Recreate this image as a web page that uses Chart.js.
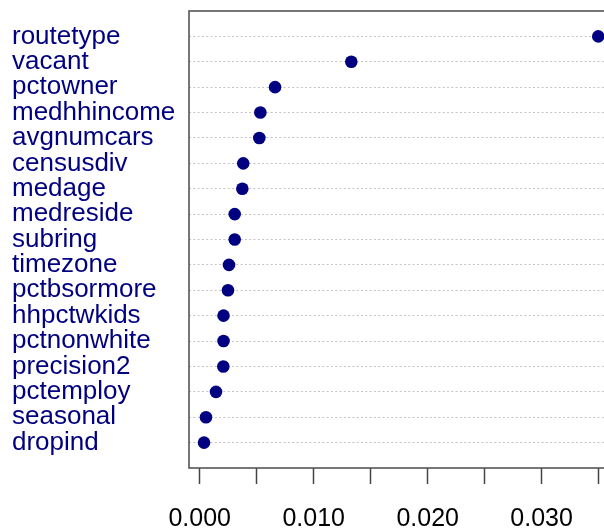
<!DOCTYPE html>
<html>
<head>
<meta charset="utf-8">
<script src="https://cdn.jsdelivr.net/npm/chart.js@4"></script>
<style>
  html, body { margin: 0; padding: 0; background: #fff; overflow: hidden; }
  #wrap { width: 604px; height: 529px; overflow: hidden; }
</style>
</head>
<body>
<div id="wrap"><canvas id="c" width="630" height="529"></canvas></div>
<script>
const vars = ['routetype', 'vacant', 'pctowner', 'medhhincome', 'avgnumcars', 'censusdiv',
  'medage', 'medreside', 'subring', 'timezone', 'pctbsormore', 'hhpctwkids',
  'pctnonwhite', 'precision2', 'pctemploy', 'seasonal', 'dropind'];
const importance = [0.03497, 0.01330, 0.00661, 0.00532, 0.00523, 0.00382,
  0.00374, 0.00307, 0.00307, 0.00257, 0.00248, 0.00209,
  0.00209, 0.00207, 0.00143, 0.00055, 0.00038];
const xTicks = [0, 0.005, 0.010, 0.015, 0.020, 0.025, 0.030, 0.035];
const xLabels = { '0': '0.000', '0.01': '0.010', '0.02': '0.020', '0.03': '0.030' };

const n = vars.length;
const points = importance.map((v, i) => ({ x: v, y: n - i }));

const boxPlugin = {
  id: 'box',
  afterDraw(chart) {
    const a = chart.chartArea, ctx = chart.ctx;
    ctx.save();
    ctx.strokeStyle = '#555';
    ctx.lineWidth = 1.6;
    ctx.strokeRect(a.left, a.top, a.right - a.left, a.bottom - a.top);
    ctx.restore();
  }
};

new Chart(document.getElementById('c').getContext('2d'), {
  type: 'scatter',
  data: {
    datasets: [{
      data: points,
      backgroundColor: '#000080',
      borderWidth: 0,
      pointRadius: 6.3,
      pointHoverRadius: 6.3
    }]
  },
  options: {
    responsive: false,
    animation: false,
    layout: { padding: { left: 12, top: 11, right: 16, bottom: 0 } },
    plugins: { legend: { display: false }, tooltip: { enabled: false } },
    scales: {
      x: {
        type: 'linear',
        min: -0.00094,
        max: 0.03635,
        afterBuildTicks: s => { s.ticks = xTicks.map(v => ({ value: v })); },
        afterFit: s => { s.height = 61; },
        grid: { drawOnChartArea: false, drawTicks: true, tickLength: 16, tickColor: '#444', tickWidth: 1.5 },
        border: { display: false },
        ticks: {
          autoSkip: false,
          maxRotation: 0,
          padding: 20,
          color: '#000',
          font: { family: "'Liberation Sans', Arial, sans-serif", size: 25 },
          callback: v => xLabels[String(Math.round(v * 1000) / 1000)] || ''
        }
      },
      y: {
        type: 'linear',
        min: 0,
        max: n + 1,
        afterBuildTicks: s => { s.ticks = vars.map((_, i) => ({ value: n - i })); },
        afterFit: s => { s.width = 177; s.paddingTop = 0; s.paddingBottom = 0; },
        grid: { drawTicks: false, color: '#c4c4c4', lineWidth: 1 },
        border: { display: false, dash: [2, 2.3] },
        ticks: {
          autoSkip: false,
          crossAlign: 'far',
          padding: 0,
          color: '#000080',
          font: { family: "'Liberation Sans', Arial, sans-serif", size: 26 },
          callback: v => vars[n - v]
        }
      }
    }
  },
  plugins: [boxPlugin]
});
</script>
</body>
</html>
